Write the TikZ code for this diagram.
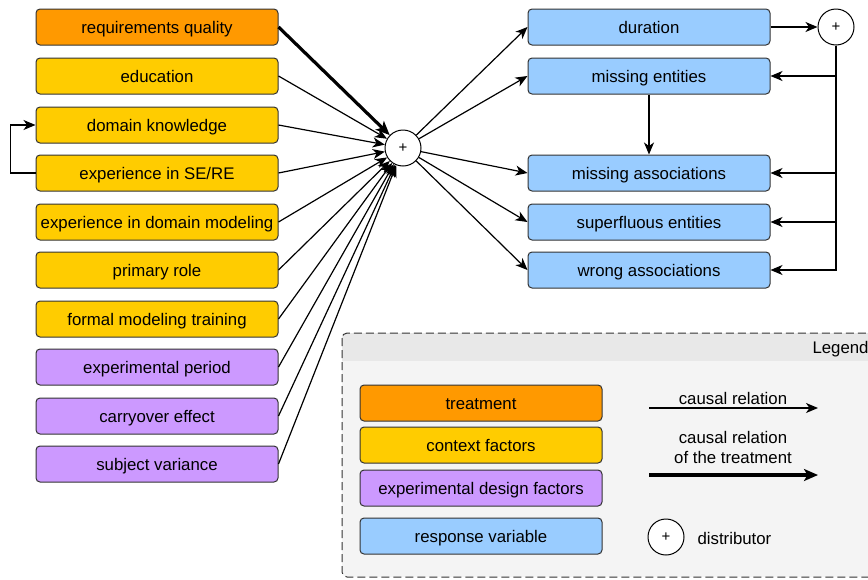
\documentclass[tikz,border=0pt]{standalone}
\usepackage{fontspec}
\setmainfont{Liberation Sans}
\usepackage{tikz}
\usetikzlibrary{arrows.meta}
\usetikzlibrary{positioning}
\definecolor{treatcol}{HTML}{FF9900}
\definecolor{ctxcol}{HTML}{FFCC00}
\definecolor{expcol}{HTML}{CC99FF}
\definecolor{respcol}{HTML}{99CCFF}
\definecolor{legbody}{HTML}{F4F4F4}
\definecolor{leghead}{HTML}{E8E8E8}
\tikzset{txt/.style={font=\fontsize{16.8}{20}\selectfont}}
\tikzset{fac/.style={rectangle,rounded corners=4pt,draw=black!80,line width=1pt,minimum width=242pt,minimum height=36pt,inner sep=0pt,text height=13pt,text depth=1pt,txt}}
\tikzset{treat/.style={fac,fill=treatcol}}
\tikzset{ctx/.style={fac,fill=ctxcol}}
\tikzset{expd/.style={fac,fill=expcol}}
\tikzset{resp/.style={fac,fill=respcol}}
\tikzset{distr/.style={circle,draw=black,line width=1pt,fill=white,minimum size=36pt,inner sep=0pt,font=\fontsize{15}{17}\selectfont}}
\tikzset{cause/.style={line width=1.2pt,-{Stealth[length=12pt,width=10pt,inset=3.5pt]}}}
\tikzset{tcause/.style={line width=3.2pt,-{Stealth[length=14pt,width=12pt,inset=3.5pt]}}}

\begin{document}
\begin{tikzpicture}[x=1pt,y=-1pt]
\clip (0,0) rectangle (868,579);
\useasboundingbox (0,0) rectangle (868,579);

% legend box
\fill[legbody,rounded corners=5pt] (342,333) rectangle (900,577);
\begin{scope}
\clip[rounded corners=5pt] (342,333) rectangle (900,577);
\fill[leghead] (342,333) rectangle (900,361);
\end{scope}
\draw[black!80,dash pattern=on 8pt off 4pt,line width=1pt,rounded corners=5pt] (342,333) rectangle (900,577);
\node[anchor=west,txt] (legt) at (809,349) {Legend};

% factors
\node[treat] (req) at (157,27) {requirements quality};
\node[ctx] (edu) at (157,76) {education};
\node[ctx] (dom) at (157,125) {domain knowledge};
\node[ctx] (exse) at (157,173) {experience in SE/RE};
\node[ctx] (exdm) at (157,222) {experience in domain modeling};
\node[ctx] (role) at (157,270) {primary role};
\node[ctx] (form) at (157,319) {formal modeling training};
\node[expd] (per) at (157,367) {experimental period};
\node[expd] (carry) at (157,416) {carryover effect};
\node[expd] (subj) at (157,464) {subject variance};

\node[distr] (d1) at (403,148) {+};

% responses
\node[resp] (dur) at (649,27) {duration};
\node[resp] (ment) at (649,76) {missing entities};
\node[resp] (masso) at (649,173) {missing associations};
\node[resp] (sent) at (649,222) {superfluous entities};
\node[resp] (wasso) at (649,270) {wrong associations};

\node[distr] (d2) at (836,27) {+};

% causal relations
\draw[tcause] (req.east) -- (d1);
\draw[cause] (edu.east) -- (d1);
\draw[cause] (dom.east) -- (d1);
\draw[cause] (exse.east) -- (d1);
\draw[cause] (exdm.east) -- (d1);
\draw[cause] (role.east) -- (d1);
\draw[cause] (form.east) -- (d1);
\draw[cause] (per.east) -- (d1);
\draw[cause] (carry.east) -- (d1);
\draw[cause] (subj.east) -- (d1);
\draw[cause] (exse.west) -- ++(-25,0) |- (dom.west);

\draw[cause] (d1) -- (dur.west);
\draw[cause] (d1) -- (ment.west);
\draw[cause] (d1) -- (masso.west);
\draw[cause] (d1) -- (sent.west);
\draw[cause] (d1) -- (wasso.west);
\draw[cause] (ment.south) -- (masso.north);

\draw[cause] (dur.east) -- (d2);
\draw[cause] (d2.south) |- (ment.east);
\draw[cause] (d2.south) |- (masso.east);
\draw[cause] (d2.south) |- (sent.east);
\draw[cause] (d2.south) |- (wasso.east);

% legend entries
\node[treat] (ltreat) at (481,403) {treatment};
\node[ctx] (lctx) at (481,445) {context factors};
\node[expd] (lexp) at (481,488) {experimental design factors};
\node[resp] (lresp) at (481,536) {response variable};

\coordinate (ca) at (649,408);
\coordinate (cb) at (818,408);
\draw[cause] (ca) -- (cb);
\node[txt] (ltxt1) at (733,398) {causal relation};
\coordinate (ta) at (649,475);
\coordinate (tb) at (818,475);
\draw[tcause] (ta) -- (tb);
\node[txt,align=center] (ltxt2) at (733,447) {causal relation\\of the treatment};
\node[distr] (ld) at (666,537) {+};
\node[anchor=west,txt] (ltxt3) at (694,538) {distributor};

\end{tikzpicture}
\end{document}
